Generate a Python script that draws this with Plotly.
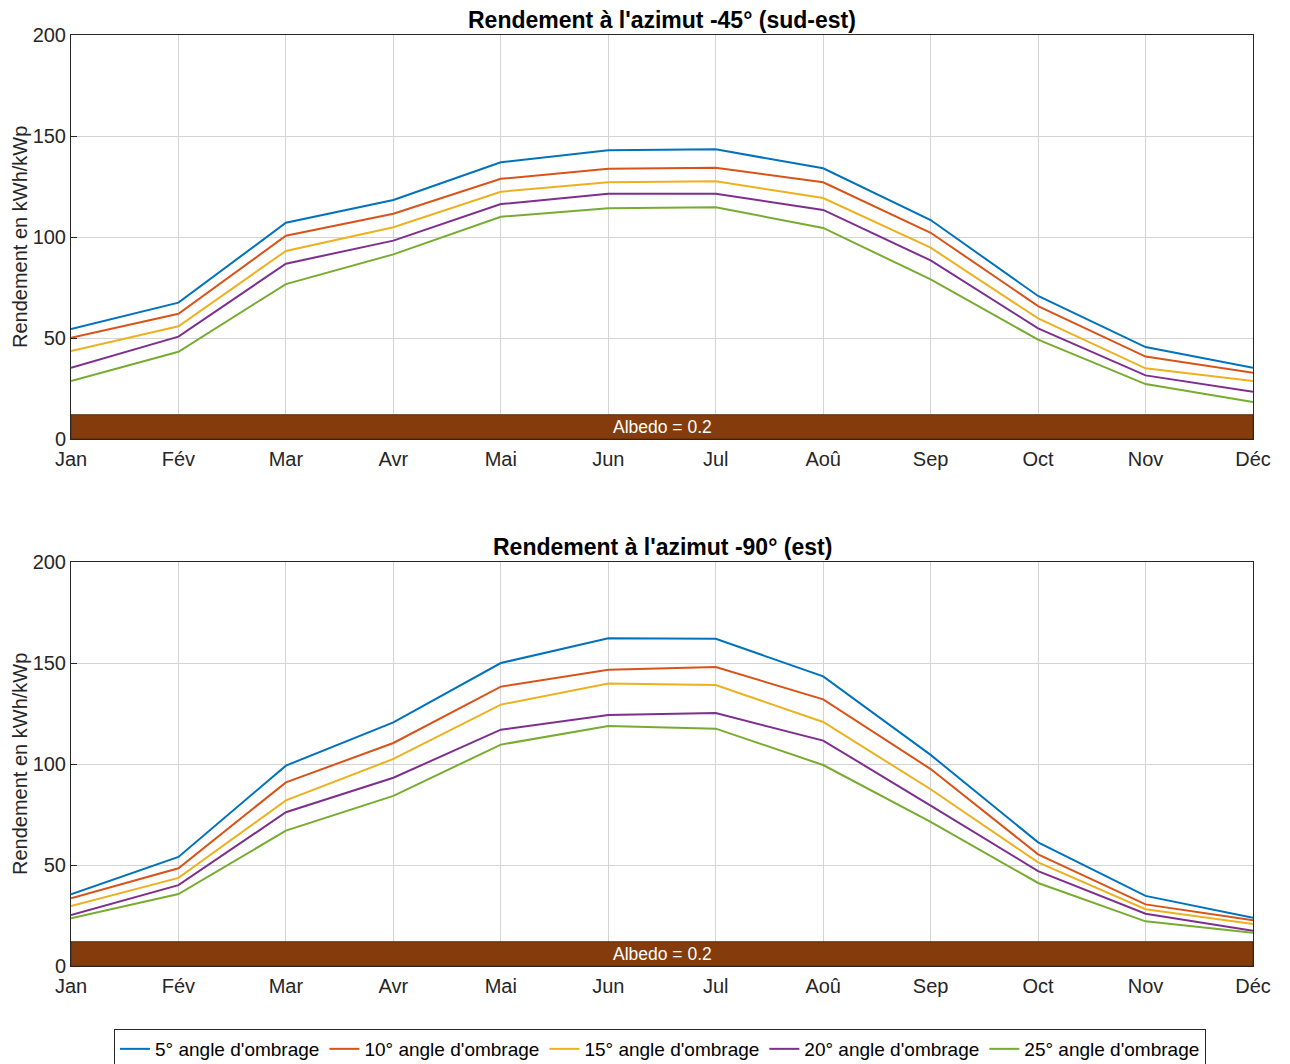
import plotly.graph_objects as go

months = ["Jan", "Fév", "Mar", "Avr", "Mai", "Jun", "Jul", "Aoû", "Sep", "Oct", "Nov", "Déc"]
series_names = ["5° angle d'ombrage", "10° angle d'ombrage", "15° angle d'ombrage",
                "20° angle d'ombrage", "25° angle d'ombrage"]
colors = ["#0072BD", "#D95319", "#EDB120", "#7E2F8E", "#77AC30"]

se_5 = [54.4, 67.5, 107.1, 118.3, 137.0, 142.9, 143.4, 134.0, 108.4, 70.8, 45.5, 35.3]
se_10 = [50.1, 62.0, 100.6, 111.5, 128.8, 133.8, 134.3, 127.1, 102.1, 65.8, 40.8, 32.8]
se_15 = [43.6, 55.8, 93.1, 104.8, 122.4, 127.1, 127.6, 119.3, 94.7, 59.7, 35.0, 28.7]
se_20 = [35.3, 50.7, 86.8, 98.2, 116.3, 121.4, 121.4, 113.4, 88.4, 54.8, 31.5, 23.4]
se_25 = [28.7, 43.2, 76.7, 91.4, 110.0, 114.2, 114.7, 104.5, 79.0, 49.2, 27.2, 18.3]

e_5 = [35.5, 54.0, 99.2, 120.6, 150.0, 162.2, 162.0, 143.4, 104.5, 61.2, 34.7, 23.9]
e_10 = [33.5, 48.4, 90.9, 110.4, 138.3, 146.7, 148.0, 132.0, 97.5, 55.3, 30.5, 22.6]
e_15 = [29.7, 43.6, 82.0, 102.5, 129.4, 139.8, 139.1, 120.8, 87.5, 51.3, 28.1, 20.8]
e_20 = [25.2, 40.0, 76.1, 93.2, 117.0, 124.3, 125.2, 111.6, 79.4, 47.0, 25.9, 17.5]
e_25 = [23.6, 35.6, 67.0, 84.2, 109.6, 118.8, 117.5, 99.5, 71.4, 41.1, 22.1, 16.5]

titles = ["Rendement à l'azimut -45° (sud-est)", "Rendement à l'azimut -90° (est)"]
albedo_text = "Albedo = 0.2"
albedo_height = 12
y_ticks = [0, 50, 100, 150, 200]

# page body has an 8px margin; figure is sized to fit the window
OFF = 8
W, H = 1290 - OFF, 1064 - OFF
FONT = "Liberation Sans, Arial, sans-serif"
TXT = "#262626"


def px_x(v):
    return (v - OFF) / W


def px_y(v):
    return 1 - (v - OFF) / H


fig = go.Figure()

panels = [
    ([se_5, se_10, se_15, se_20, se_25], "x", "y"),
    ([e_5, e_10, e_15, e_20, e_25], "x2", "y2"),
]
x_idx = list(range(len(months)))

for p, (data, xa, ya) in enumerate(panels):
    for i, vals in enumerate(data):
        fig.add_trace(go.Scatter(
            x=x_idx, y=vals, mode="lines", name=series_names[i],
            line=dict(color=colors[i], width=2),
            xaxis=xa, yaxis=ya, showlegend=(p == 0),
        ))

x0, x1 = px_x(71), px_x(1253)
doms = [(px_y(439), px_y(35)), (px_y(966), px_y(562))]
title_y = [px_y(20), px_y(547)]

axis_common = dict(
    showline=True, linecolor=TXT, linewidth=1, mirror=True,
    ticks="inside", ticklen=6, tickcolor=TXT,
    showgrid=True, gridcolor="#d4d4d4", gridwidth=1,
    tickfont=dict(family=FONT, size=20, color=TXT),
    zeroline=False, automargin=False,
)

layout = dict(
    width=W, height=H, plot_bgcolor="white", paper_bgcolor="white",
    margin=dict(l=0, r=0, t=0, b=0, autoexpand=False),
    font=dict(family=FONT, color=TXT),
    legend=dict(
        orientation="h", x=px_x(660), xanchor="center", y=px_y(1049), yanchor="middle",
        bordercolor=TXT, borderwidth=1, bgcolor="white",
        font=dict(family=FONT, size=19, color="#000"),
        itemwidth=30, tracegroupgap=0,
    ),
    shapes=[], annotations=[],
)

for p in range(2):
    xk = "xaxis" if p == 0 else "xaxis2"
    yk = "yaxis" if p == 0 else "yaxis2"
    ya_ref = "y" if p == 0 else "y2"
    xa_ref = "x" if p == 0 else "x2"
    layout[xk] = dict(axis_common, domain=[x0, x1], range=[0, 11],
                      tickvals=x_idx, ticktext=months, anchor=ya_ref,
                      ticklabelstandoff=2)
    layout[yk] = dict(axis_common, domain=list(doms[p]), range=[0, 200],
                      tickvals=y_ticks, anchor=xa_ref)
    layout["annotations"].append(dict(
        x=px_x(20), y=(doms[p][0] + doms[p][1]) / 2, xref="paper", yref="paper",
        text="Rendement en kWh/kWp", textangle=-90, showarrow=False,
        xanchor="center", yanchor="middle",
        font=dict(family=FONT, size=20, color=TXT),
    ))
    layout["shapes"].append(dict(
        type="rect", xref=xa_ref, yref=ya_ref, x0=0, x1=11, y0=0, y1=albedo_height,
        fillcolor="#843C0C", line=dict(color="#5a2a08", width=1), layer="above",
    ))
    layout["annotations"].append(dict(
        x=5.5, y=albedo_height / 2, xref=xa_ref, yref=ya_ref, text=albedo_text,
        showarrow=False, font=dict(family=FONT, size=17.5, color="white"),
    ))
    layout["annotations"].append(dict(
        x=(x0 + x1) / 2, y=title_y[p], xref="paper", yref="paper",
        text="<b>" + titles[p] + "</b>", showarrow=False, yanchor="middle",
        font=dict(family=FONT, size=23, color="#000"),
    ))

fig.update_layout(**layout)
fig.write_html("out.html")
